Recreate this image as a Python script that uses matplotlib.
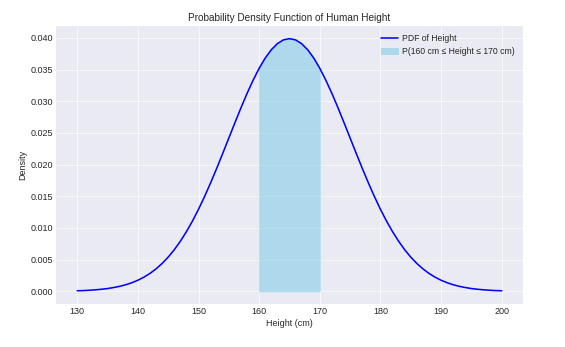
import numpy as np
import matplotlib
matplotlib.use("Agg")
import matplotlib.pyplot as plt

# Heights (cm) at 1 cm steps and density values
heights = list(range(130, 201))
density = [
    0.00009, 0.00012, 0.00017, 0.00024, 0.00033, 0.00044, 0.00060, 0.00079,
    0.00104, 0.00136, 0.00175, 0.00224, 0.00283, 0.00355, 0.00440, 0.00540,
    0.00656, 0.00790, 0.00941, 0.01109, 0.01295, 0.01497, 0.01714, 0.01942,
    0.02179, 0.02420, 0.02661, 0.02897, 0.03123, 0.03332, 0.03521, 0.03683,
    0.03814, 0.03910, 0.03970, 0.03989, 0.03970, 0.03910, 0.03814, 0.03683,
    0.03521, 0.03332, 0.03123, 0.02897, 0.02661, 0.02420, 0.02179, 0.01942,
    0.01714, 0.01497, 0.01295, 0.01109, 0.00941, 0.00790, 0.00656, 0.00540,
    0.00440, 0.00355, 0.00283, 0.00224, 0.00175, 0.00136, 0.00104, 0.00079,
    0.00060, 0.00044, 0.00033, 0.00024, 0.00017, 0.00012, 0.00009,
]
range_low, range_high = 160, 170

plt.style.use("seaborn-v0_8-darkgrid")
plt.rcParams["font.family"] = ["Liberation Sans", "DejaVu Sans"]

fig = plt.figure(figsize=(10, 6.1416), dpi=56.5)
ax = fig.add_axes([0.0991, 0.124, 0.8265, 0.801])

x = np.array(heights)
y = np.array(density)
ax.plot(x, y, color="blue", lw=2, label="PDF of Height")
mask = (x >= range_low) & (x <= range_high)
ax.fill_between(x, y, where=mask, color="skyblue", alpha=0.6,
                label="P(160 cm \u2264 Height \u2264 170 cm)")

ax.set_title("Probability Density Function of Human Height", fontsize=12.8)
ax.set_xlabel("Height (cm)", fontsize=11.5)
ax.set_ylabel("Density", fontsize=11.5)
ax.tick_params(labelsize=11.5)
ax.set_yticks(np.arange(0, 0.0401, 0.005))
ax.yaxis.set_major_formatter(matplotlib.ticker.FormatStrFormatter("%.3f"))
ax.legend(loc="upper right", fontsize=11, frameon=False, handletextpad=0.5)

fig.savefig("out.png", dpi=56.5)
